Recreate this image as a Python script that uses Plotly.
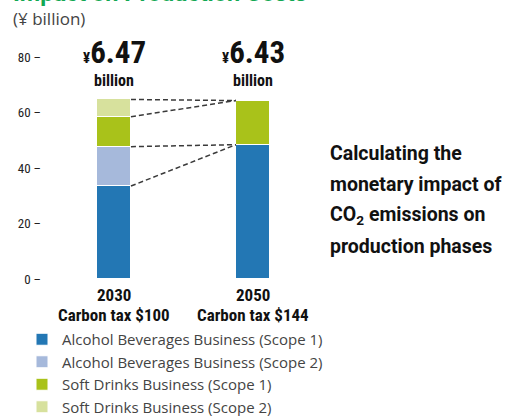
import plotly.graph_objects as go

categories = ["2030", "2050"]
cat_line1 = ["2030", "2050"]
cat_line2 = ["Carbon tax $100", "Carbon tax $144"]
series_names = [
    "Alcohol Beverages Business (Scope 1)",
    "Alcohol Beverages Business (Scope 2)",
    "Soft Drinks Business (Scope 1)",
    "Soft Drinks Business (Scope 2)",
]
series_values = [
    [33.5, 48.4],
    [14.2, 0.0],
    [10.8, 15.9],
    [6.2, 0.0],
]
colors = ["#2377b4", "#a6b9db", "#a9c21a", "#d7e19d"]
totals_text = ["6.47", "6.43"]
y_ticks = [0, 20, 40, 60, 80]

W, H = 509, 416
ML, MR, MT, MB = 50, 0, 57, 137
PW, PH = W - ML - MR, H - MT - MB

COND = "Liberation Sans Narrow, Roboto Condensed, Arial Narrow, Arial, sans-serif"
x_idx = [0, 1]
bar_w = 0.245
X_RANGE = [-0.46, 2.842]


def px_x(px):
    return (px - ML) / PW


def px_y(py):
    return (H - MB - py) / PH


def data_x_to_px(xv):
    return ML + (xv - X_RANGE[0]) / (X_RANGE[1] - X_RANGE[0]) * PW


fig = go.Figure()
for name, vals, col in zip(series_names, series_values, colors):
    fig.add_trace(go.Bar(
        x=x_idx, y=vals, name=name, width=bar_w,
        marker=dict(color=col, line=dict(color="white", width=1)),
        showlegend=True,
    ))

# dashed connectors between segment tops
cum = []
run = [0, 0]
for vals in series_values:
    run = [run[0] + vals[0], run[1] + vals[1]]
    cum.append(list(run))
alcohol_top_2050 = cum[1][1]
soft_top_2050 = cum[3][1]
pairs = [
    (cum[0][0], alcohol_top_2050),
    (cum[1][0], alcohol_top_2050),
    (cum[2][0], soft_top_2050),
    (cum[3][0], soft_top_2050),
]
for y0, y1 in pairs:
    fig.add_trace(go.Scatter(
        x=[0 + bar_w / 2, 1 - bar_w / 2], y=[y0, y1], mode="lines",
        line=dict(color="#3a3a3a", width=1.5, dash="5px,3px"),
        showlegend=False, hoverinfo="skip",
    ))

ann = []
for i, t in enumerate(totals_text):
    cx = px_x(data_x_to_px(i))
    ann.append(dict(x=cx, y=px_y(52), xref="paper", yref="paper", showarrow=False,
                    text="<b><span style='font-size:15px'>¥</span>" + t + "</b>",
                    font=dict(family=COND, size=31, color="#111111"),
                    yanchor="middle", xanchor="center", xshift=1))
    ann.append(dict(x=cx, y=px_y(80), xref="paper", yref="paper", showarrow=False,
                    text="<b>billion</b>",
                    font=dict(family=COND, size=16, color="#111111"),
                    yanchor="middle", xanchor="center"))
    ann.append(dict(x=cx, y=px_y(295), xref="paper", yref="paper", showarrow=False,
                    text="<b>" + cat_line1[i] + "</b>",
                    font=dict(family=COND, size=17, color="#111111"),
                    yanchor="middle", xanchor="center"))
    ann.append(dict(x=cx, y=px_y(314.5), xref="paper", yref="paper", showarrow=False,
                    text="<b>" + cat_line2[i] + "</b>",
                    font=dict(family=COND, size=17, color="#111111"),
                    yanchor="middle", xanchor="center"))

right_lines = ["Calculating the", "monetary impact of",
               "CO<sub>2</sub> emissions on", "production phases"]
for k, line in enumerate(right_lines):
    ann.append(dict(x=px_x(328), y=px_y(153 + k * 31), xref="paper", yref="paper",
                    showarrow=False, text="<b>" + line + "</b>",
                    font=dict(family="Roboto, Arial, sans-serif", size=19.5, color="#111111"),
                    xanchor="left", yanchor="middle"))

ann.append(dict(x=px_x(11), y=px_y(18), xref="paper", yref="paper", showarrow=False,
                text="(¥ billion)", xanchor="left", yanchor="middle",
                font=dict(family="Open Sans, Arial, sans-serif", size=17, color="#444444")))
ann.append(dict(x=px_x(11), y=px_y(9), xref="paper", yref="paper", showarrow=False,
                text="<b>Impact on Production Costs</b>", xanchor="left", yanchor="bottom",
                font=dict(family="Roboto, Arial, sans-serif", size=23.5, color="#12a853")))

fig.update_layout(
    width=W, height=H,
    margin=dict(l=ML, r=MR, t=MT, b=MB, autoexpand=False),
    plot_bgcolor="white", paper_bgcolor="white",
    barmode="stack", bargap=0,
    xaxis=dict(range=X_RANGE, showticklabels=False, showgrid=False,
               zeroline=False, showline=False, fixedrange=True),
    yaxis=dict(range=[0, 80], tickvals=y_ticks,
               ticktext=[f"{v} –" for v in y_ticks],
               tickfont=dict(family=COND, size=13, color="#222222"),
               showgrid=False, zeroline=False, showline=False,
               ticks="", ticklabelstandoff=8, fixedrange=True),
    legend=dict(xref="container", yref="container",
                x=22 / W, y=1 - 323 / H, xanchor="left", yanchor="top",
                font=dict(family="Open Sans, Arial, sans-serif", size=15, color="#444444"),
                traceorder="normal", itemclick=False, tracegroupgap=0,
                bgcolor="rgba(0,0,0,0)"),
    showlegend=True,
    annotations=ann,
)

fig.write_html("out.html")
